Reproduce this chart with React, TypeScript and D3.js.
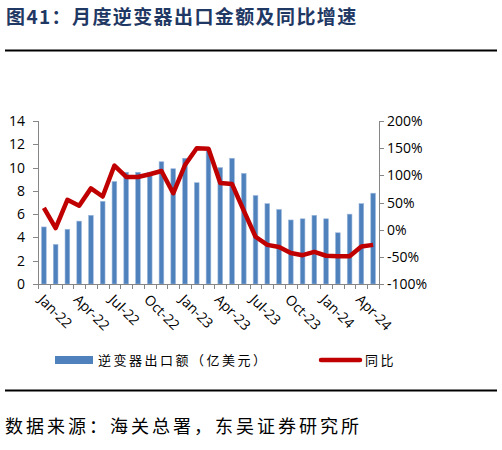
import React, { useRef, useEffect } from 'react';
import * as d3 from 'd3';

// 月份（2022-01 ~ 2024-05）
const MONTHS: string[] = [
  'Jan-22', 'Feb-22', 'Mar-22', 'Apr-22', 'May-22', 'Jun-22', 'Jul-22', 'Aug-22', 'Sep-22', 'Oct-22', 'Nov-22', 'Dec-22',
  'Jan-23', 'Feb-23', 'Mar-23', 'Apr-23', 'May-23', 'Jun-23', 'Jul-23', 'Aug-23', 'Sep-23', 'Oct-23', 'Nov-23', 'Dec-23',
  'Jan-24', 'Feb-24', 'Mar-24', 'Apr-24', 'May-24',
];

// 逆变器出口额（亿美元）
const EXPORT_VALUE: number[] = [
  4.9, 3.4, 4.7, 5.4, 5.9, 7.1, 8.8, 9.6, 9.6, 9.6, 10.5, 9.9,
  10.8, 8.7, 11.6, 10.0, 10.8, 9.5, 7.6, 6.9, 6.4, 5.5, 5.6, 5.9,
  5.6, 4.4, 6.0, 6.9, 7.8,
];

// 同比（%）
const YOY: number[] = [
  40, 3, 55, 44, 76, 61, 118, 97, 97, 102, 108, 67,
  119, 150, 149, 86, 84, 35, -13, -28, -32, -43, -47, -41,
  -48, -49, -49, -31, -28,
];

const LEFT_TICKS = [0, 2, 4, 6, 8, 10, 12, 14];
const RIGHT_TICKS = [-100, -50, 0, 50, 100, 150, 200];

const TITLE = '图41：月度逆变器出口金额及同比增速';
const SOURCE = '数据来源：海关总署，东吴证券研究所';
const LEGEND_BAR = '逆变器出口额（亿美元）';
const LEGEND_LINE = '同比';

const CJK = '"Noto Sans CJK SC", "Noto Sans", sans-serif';
const NUM = '"Open Sans", "Liberation Sans", sans-serif';

const App: React.FC = () => {
  const svgRef = useRef<SVGSVGElement>(null);

  useEffect(() => {
    const svg = d3.select(svgRef.current);
    svg.selectAll('*').remove();

    const width = 502;
    const height = 450;
    svg.attr('width', width).attr('height', height);

    const plot = { left: 38, right: 379, top: 121, bottom: 284 };

    const x = d3.scaleBand<string>()
      .domain(MONTHS)
      .range([plot.left, plot.right])
      .paddingInner(0.6)
      .paddingOuter(0.3);
    const yL = d3.scaleLinear().domain([0, 14]).range([plot.bottom, plot.top]);
    const yR = d3.scaleLinear().domain([-100, 200]).range([plot.bottom, plot.top]);
    const step = (plot.right - plot.left) / MONTHS.length;
    const cx = (m: string) => (x(m) ?? 0) + x.bandwidth() / 2;

    // 标题
    svg.append('text')
      .attr('x', 6).attr('y', 24)
      .attr('font-family', CJK).attr('font-weight', 'bold')
      .attr('font-size', 19).attr('letter-spacing', 1.4)
      .attr('fill', '#1F3864')
      .text(TITLE);
    svg.append('line')
      .attr('x1', 5).attr('x2', 497).attr('y1', 50.5).attr('y2', 50.5)
      .attr('stroke', '#000').attr('stroke-width', 2);

    // 柱子
    svg.append('g').selectAll('rect')
      .data(EXPORT_VALUE)
      .join('rect')
      .attr('x', (_, i) => x(MONTHS[i]) ?? 0)
      .attr('y', d => yL(d))
      .attr('width', x.bandwidth())
      .attr('height', d => yL(0) - yL(d))
      .attr('fill', '#4F81BD')
      .attr('stroke', '#9DB9DD')
      .attr('stroke-width', 0.6);

    // 坐标轴
    const axisColor = '#868686';
    const g = svg.append('g');
    g.append('line')
      .attr('x1', plot.left + 0.5).attr('x2', plot.left + 0.5)
      .attr('y1', plot.top).attr('y2', plot.bottom)
      .attr('stroke', axisColor);
    g.append('line')
      .attr('x1', plot.right + 0.5).attr('x2', plot.right + 0.5)
      .attr('y1', plot.top).attr('y2', plot.bottom)
      .attr('stroke', axisColor);
    g.append('line')
      .attr('x1', plot.left).attr('x2', plot.right + 1)
      .attr('y1', plot.bottom + 0.5).attr('y2', plot.bottom + 0.5)
      .attr('stroke', axisColor);

    LEFT_TICKS.forEach(t => {
      const yy = Math.round(yL(t)) + 0.5;
      g.append('line')
        .attr('x1', plot.left - 5).attr('x2', plot.left)
        .attr('y1', yy).attr('y2', yy).attr('stroke', axisColor);
      g.append('text')
        .attr('x', 25).attr('y', yy)
        .attr('dy', '0.35em').attr('text-anchor', 'end')
        .attr('font-family', NUM).attr('font-size', 14).attr('fill', '#000')
        .text(t);
    });

    RIGHT_TICKS.forEach(t => {
      const yy = Math.round(yR(t)) + 0.5;
      g.append('line')
        .attr('x1', plot.right).attr('x2', plot.right + 5)
        .attr('y1', yy).attr('y2', yy).attr('stroke', axisColor);
      g.append('text')
        .attr('x', 387).attr('y', yy)
        .attr('dy', '0.35em').attr('text-anchor', 'start')
        .attr('font-family', NUM).attr('font-size', 14).attr('fill', '#000')
        .text(`${t}%`);
    });

    // x 轴刻度（每个月一格）
    d3.range(MONTHS.length + 1).forEach(i => {
      const xx = Math.round(plot.left + i * step) + 0.5;
      g.append('line')
        .attr('x1', xx).attr('x2', xx)
        .attr('y1', plot.bottom).attr('y2', plot.bottom + 5)
        .attr('stroke', axisColor);
    });

    MONTHS.forEach((m, i) => {
      if (i % 3 !== 0) return;
      const xx = cx(m) - 3;
      const yy = plot.bottom + 13;
      g.append('text')
        .attr('transform', `translate(${xx},${yy}) rotate(45)`)
        .attr('dy', '0.35em')
        .attr('font-family', NUM).attr('font-size', 14).attr('fill', '#000')
        .text(m);
    });

    // 同比折线
    const line = d3.line<number>()
      .x((_, i) => cx(MONTHS[i]))
      .y(d => yR(d));
    svg.append('path')
      .attr('d', line(YOY) || '')
      .attr('fill', 'none')
      .attr('stroke', '#C00000')
      .attr('stroke-width', 4.5)
      .attr('stroke-linejoin', 'round');

    // 图例
    svg.append('rect')
      .attr('x', 55).attr('y', 356).attr('width', 38).attr('height', 8)
      .attr('fill', '#4F81BD');
    svg.append('text')
      .attr('x', 98).attr('y', 365)
      .attr('font-family', CJK).attr('font-size', 13).attr('letter-spacing', 2.5)
      .attr('fill', '#000')
      .text(LEGEND_BAR);
    svg.append('line')
      .attr('x1', 321).attr('x2', 360).attr('y1', 360).attr('y2', 360)
      .attr('stroke', '#C00000').attr('stroke-width', 4.5).attr('stroke-linecap', 'round');
    svg.append('text')
      .attr('x', 365).attr('y', 365)
      .attr('font-family', CJK).attr('font-size', 13).attr('letter-spacing', 2.5)
      .attr('fill', '#000')
      .text(LEGEND_LINE);

    // 底部分隔线与数据来源
    svg.append('line')
      .attr('x1', 5).attr('x2', 497).attr('y1', 390.5).attr('y2', 390.5)
      .attr('stroke', '#000').attr('stroke-width', 2);
    svg.append('text')
      .attr('x', 5).attr('y', 433)
      .attr('font-family', CJK).attr('font-size', 18).attr('letter-spacing', 3)
      .attr('fill', '#000')
      .text(SOURCE);
  }, []);

  return (
    <svg ref={svgRef} style={{ position: 'absolute', left: 0, top: 0 }} />
  );
};

export default App;
